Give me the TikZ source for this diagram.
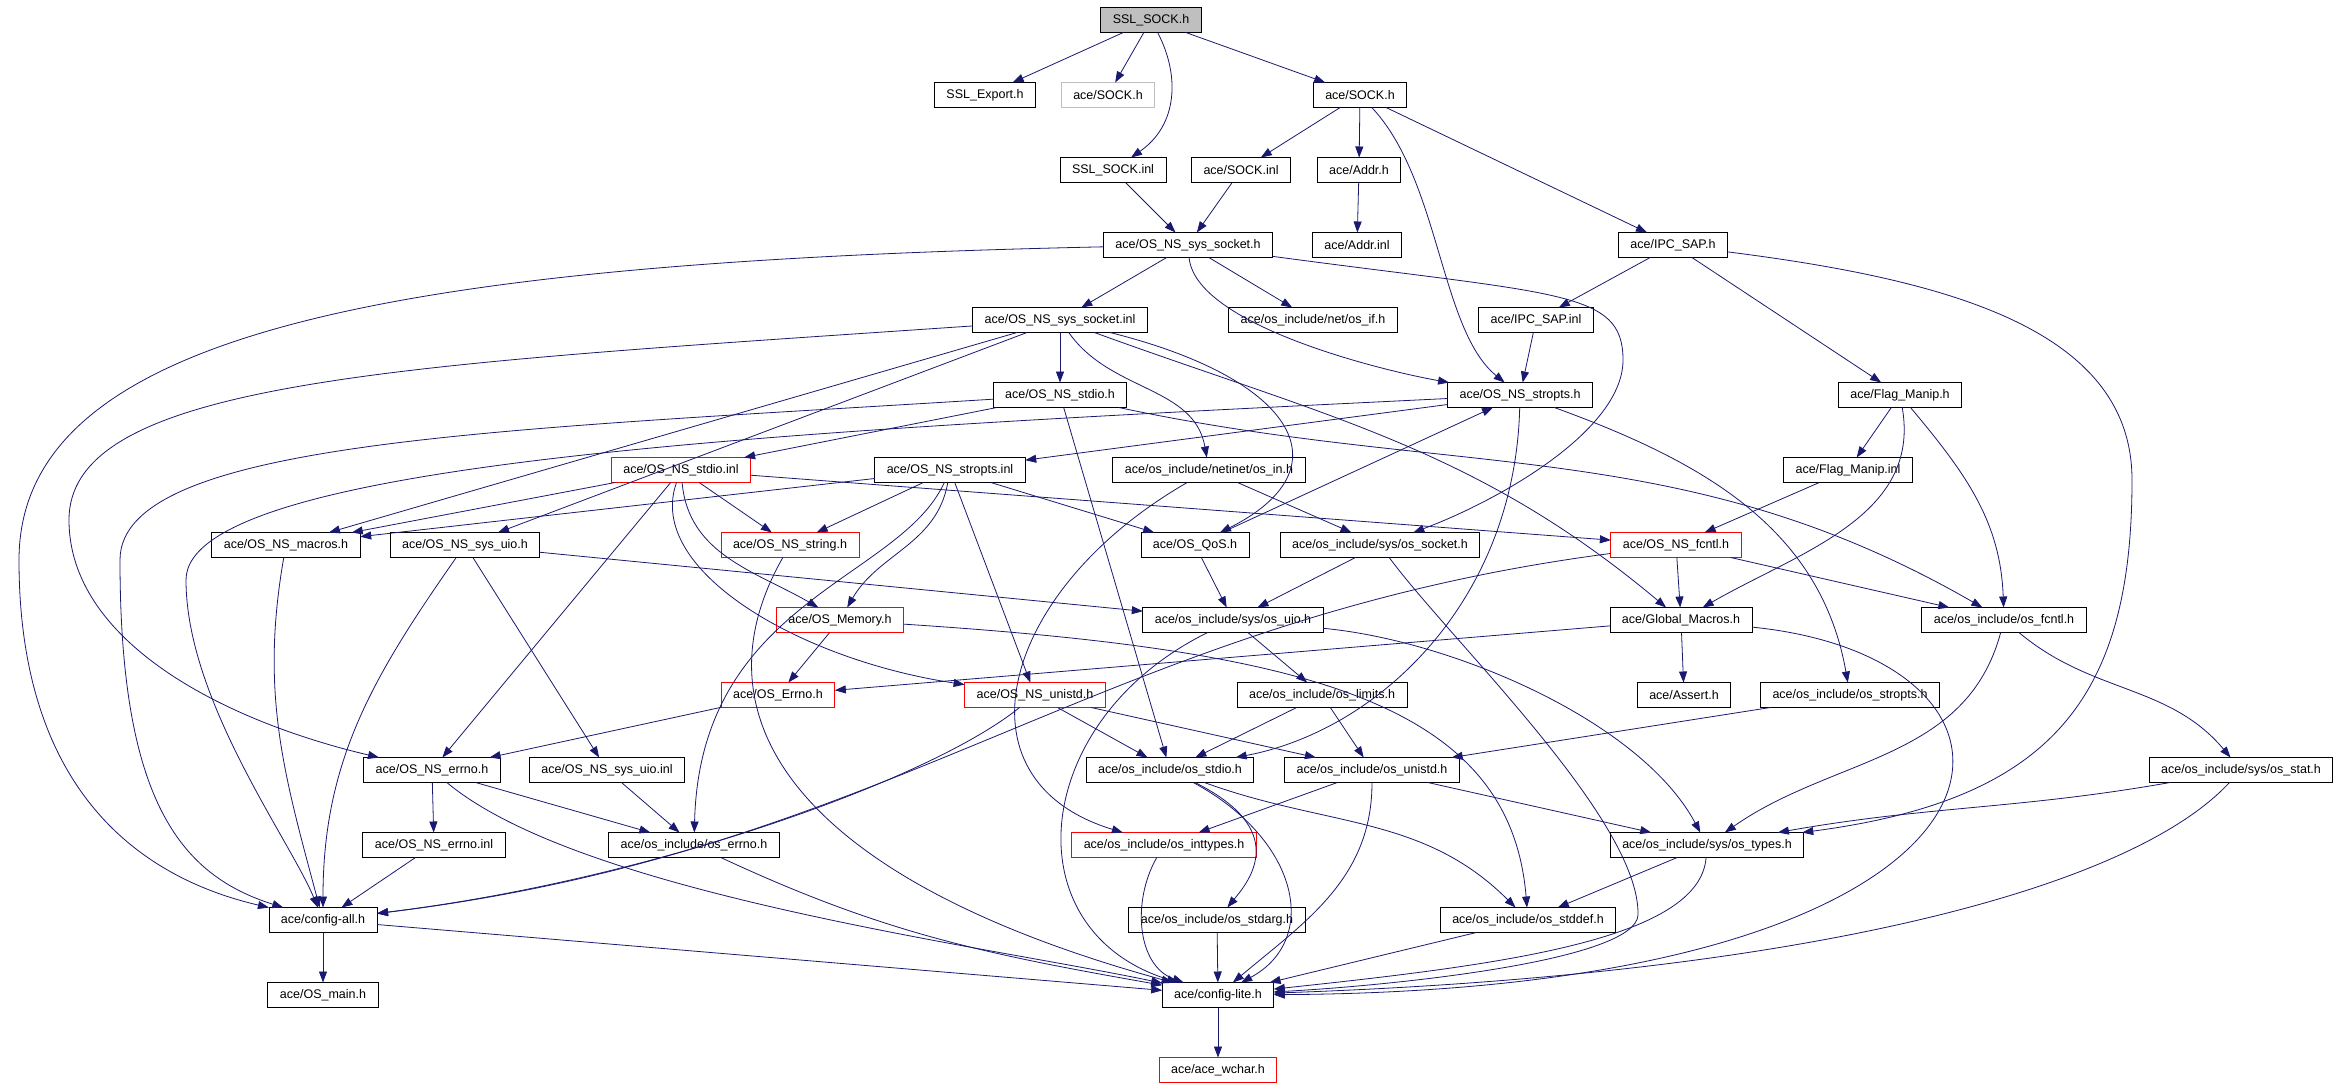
\documentclass[tikz,border=0pt]{standalone}
\usepackage{fontspec}
\setmainfont[Ligatures=NoCommon]{Liberation Sans}
\usepackage{tkz-graph}
\usetikzlibrary{arrows.meta}
\definecolor{edgeblue}{HTML}{191970}
\definecolor{nodegray}{HTML}{BFBFBF}
\begin{document}
\begin{tikzpicture}[x=1pt,y=1pt,
    VertexStyle/.style={rectangle,draw,line width=0.9pt,
      minimum height=25pt,inner xsep=12pt,inner ysep=0pt,font=\fontsize{12.5}{14}\selectfont},
    EdgeStyle/.style={draw=edgeblue,line width=0.8pt,-{Triangle[length=11pt,width=8pt]}},
    LabelStyle/.style={}]
\SetVertexNoMath
\useasboundingbox[fill=white] (0,0) rectangle (2341,-1083);
        \Vertex[x=1151,y=-20,L={SSL\_SOCK.h},style={fill=nodegray}]{sslsock}
        \Vertex[x=985,y=-95,L={SSL\_Export.h}]{sslexport}
        \Vertex[x=1108,y=-95,L={ace/SOCK.h},style={draw=nodegray}]{sockgray}
        \Vertex[x=1360,y=-95,L={ace/SOCK.h}]{sockh}
        \Vertex[x=1113,y=-170,L={SSL\_SOCK.inl}]{sslsockinl}
        \Vertex[x=1241,y=-170,L={ace/SOCK.inl}]{sockinl}
        \Vertex[x=1359,y=-170,L={ace/Addr.h}]{addrh}
        \Vertex[x=1188,y=-245,L={ace/OS\_NS\_sys\_socket.h}]{nssyssocket}
        \Vertex[x=1357,y=-245,L={ace/Addr.inl}]{addrinl}
        \Vertex[x=1673,y=-245,L={ace/IPC\_SAP.h}]{ipcsap}
        \Vertex[x=1060,y=-320,L={ace/OS\_NS\_sys\_socket.inl}]{nssyssocketinl}
        \Vertex[x=1313,y=-320,L={ace/os\_include/net/os\_if.h}]{osif}
        \Vertex[x=1536,y=-320,L={ace/IPC\_SAP.inl}]{ipcsapinl}
        \Vertex[x=1060,y=-395,L={ace/OS\_NS\_stdio.h}]{nsstdio}
        \Vertex[x=1520,y=-395,L={ace/OS\_NS\_stropts.h}]{nsstropts}
        \Vertex[x=1900,y=-395,L={ace/Flag\_Manip.h}]{flagmanip}
        \Vertex[x=681,y=-470,L={ace/OS\_NS\_stdio.inl},style={draw=red}]{nsstdioinl}
        \Vertex[x=950,y=-470,L={ace/OS\_NS\_stropts.inl}]{nsstroptsinl}
        \Vertex[x=1209,y=-470,L={ace/os\_include/netinet/os\_in.h}]{osin}
        \Vertex[x=1848,y=-470,L={ace/Flag\_Manip.inl}]{flagmanipinl}
        \Vertex[x=286,y=-545,L={ace/OS\_NS\_macros.h}]{nsmacros}
        \Vertex[x=465,y=-545,L={ace/OS\_NS\_sys\_uio.h}]{nssysuio}
        \Vertex[x=790,y=-545,L={ace/OS\_NS\_string.h},style={draw=red}]{nsstring}
        \Vertex[x=1195,y=-545,L={ace/OS\_QoS.h}]{osqos}
        \Vertex[x=1380,y=-545,L={ace/os\_include/sys/os\_socket.h}]{ossocket}
        \Vertex[x=1676,y=-545,L={ace/OS\_NS\_fcntl.h},style={draw=red}]{nsfcntl}
        \Vertex[x=840,y=-620,L={ace/OS\_Memory.h},style={draw=red}]{osmemory}
        \Vertex[x=1233,y=-620,L={ace/os\_include/sys/os\_uio.h}]{osuio}
        \Vertex[x=1681,y=-620,L={ace/Global\_Macros.h}]{globalmacros}
        \Vertex[x=2004,y=-620,L={ace/os\_include/os\_fcntl.h}]{osfcntl}
        \Vertex[x=778,y=-695,L={ace/OS\_Errno.h},style={draw=red}]{oserrnoh}
        \Vertex[x=1035,y=-695,L={ace/OS\_NS\_unistd.h},style={draw=red}]{nsunistd}
        \Vertex[x=1322,y=-695,L={ace/os\_include/os\_limits.h}]{oslimits}
        \Vertex[x=1684,y=-695,L={ace/Assert.h}]{assert}
        \Vertex[x=1850,y=-695,L={ace/os\_include/os\_stropts.h}]{osstropts}
        \Vertex[x=432,y=-770,L={ace/OS\_NS\_errno.h}]{nserrno}
        \Vertex[x=607,y=-770,L={ace/OS\_NS\_sys\_uio.inl}]{nssysuioinl}
        \Vertex[x=1170,y=-770,L={ace/os\_include/os\_stdio.h}]{osstdio}
        \Vertex[x=1372,y=-770,L={ace/os\_include/os\_unistd.h}]{osunistd}
        \Vertex[x=2241,y=-770,L={ace/os\_include/sys/os\_stat.h}]{osstat}
        \Vertex[x=434,y=-845,L={ace/OS\_NS\_errno.inl}]{nserrnoinl}
        \Vertex[x=694,y=-845,L={ace/os\_include/os\_errno.h}]{oserrno}
        \Vertex[x=1164,y=-845,L={ace/os\_include/os\_inttypes.h},style={draw=red}]{osinttypes}
        \Vertex[x=1707,y=-845,L={ace/os\_include/sys/os\_types.h}]{ostypes}
        \Vertex[x=323,y=-920,L={ace/config-all.h}]{configall}
        \Vertex[x=1217,y=-920,L={ace/os\_include/os\_stdarg.h}]{osstdarg}
        \Vertex[x=1528,y=-920,L={ace/os\_include/os\_stddef.h}]{osstddef}
        \Vertex[x=323,y=-995,L={ace/OS\_main.h}]{osmain}
        \Vertex[x=1218,y=-995,L={ace/config-lite.h}]{configlite}
        \Vertex[x=1218,y=-1070,L={ace/ace\_wchar.h},style={draw=red}]{acewchar}
        \coordinate (wA) at (19,-560);
        \coordinate (wB) at (1623,-360);
        \coordinate (wC) at (2132,-480);
        \coordinate (wD) at (69,-520);
        \coordinate (wE) at (120,-560);
        \coordinate (wF) at (186,-580);
        \coordinate (wG) at (1638,-915);
        \Edge(sslsock)(sslexport)
        \Edge(sslsock)(sockgray)
        \Edge(sslsock)(sockh)
        \draw[EdgeStyle] (sslsock) .. controls (1180,-75) and (1178,-125) .. (sslsockinl);
        \Edge(sockh)(sockinl)
        \Edge(sockh)(addrh)
        \Edge(sockh)(ipcsap)
        \draw[EdgeStyle] (sockh) .. controls (1440,-180) and (1440,-330) .. (nsstropts);
        \Edge(sslsockinl)(nssyssocket)
        \Edge(sockinl)(nssyssocket)
        \Edge(addrh)(addrinl)
        \Edge(nssyssocket)(nssyssocketinl)
        \Edge(nssyssocket)(osif)
        \Edge[style={out=-85,in=170,looseness=0.6}](nssyssocket)(nsstropts)
        \draw[EdgeStyle] (nssyssocket) .. controls (400,-262) and (19,-330) .. (wA)
            .. controls (19,-800) and (150,-880) .. (configall);
        \draw[EdgeStyle] (nssyssocket) .. controls (1560,-295) and (1623,-290) .. (wB)
            .. controls (1623,-430) and (1500,-500) .. (ossocket);
        \Edge(ipcsap)(ipcsapinl)
        \Edge(ipcsap)(flagmanip)
        \draw[EdgeStyle] (ipcsap) .. controls (1950,-280) and (2132,-330) .. (wC)
            .. controls (2132,-700) and (2050,-800) .. (ostypes);
        \Edge(ipcsapinl)(nsstropts)
        \draw[EdgeStyle] (nssyssocketinl) .. controls (400,-365) and (69,-380) .. (wD)
            .. controls (69,-640) and (220,-720) .. (nserrno);
        \Edge(nssyssocketinl)(nsmacros)
        \Edge(nssyssocketinl)(nssysuio)
        \Edge(nssyssocketinl)(nsstdio)
        \Edge[style={out=-55,in=100}](nssyssocketinl)(osin)
        \draw[EdgeStyle] (nssyssocketinl) .. controls (1300,-380) and (1345,-470) .. (osqos);
        \Edge[style={out=-20,in=140}](nssyssocketinl)(globalmacros)
        \Edge(nsstdio)(nsstdioinl)
        \Edge(nsstdio)(osstdio)
        \Edge[style={out=-12,in=150}](nsstdio)(osfcntl)
        \draw[EdgeStyle] (nsstdio) .. controls (500,-430) and (120,-440) .. (wE)
            .. controls (120,-800) and (180,-875) .. (configall);
        \Edge(nsstropts)(nsstroptsinl)
        \draw[EdgeStyle] (nsstropts) .. controls (1515,-600) and (1380,-730) .. (osstdio);
        \Edge[style={out=-20,in=100}](nsstropts)(osstropts)
        \draw[EdgeStyle] (nsstropts) .. controls (800,-430) and (186,-460) .. (wF)
            .. controls (186,-700) and (290,-840) .. (configall);
        \Edge(flagmanip)(flagmanipinl)
        \Edge[style={out=-80,in=30}](flagmanip)(globalmacros)
        \Edge[style={out=-50,in=92}](flagmanip)(osfcntl)
        \Edge(flagmanipinl)(nsfcntl)
        \Edge(nsstdioinl)(nsmacros)
        \Edge(nsstdioinl)(nsstring)
        \Edge[style={out=-85,in=150}](nsstdioinl)(osmemory)
        \draw[EdgeStyle] (nsstdioinl) .. controls (645,-570) and (800,-660) .. (nsunistd);
        \Edge(nsstdioinl)(nserrno)
        \Edge(nsstdioinl)(nsfcntl)
        \Edge(nsstroptsinl)(nsmacros)
        \Edge(nsstroptsinl)(nsstring)
        \Edge[style={out=-100,in=60}](nsstroptsinl)(osmemory)
        \Edge(nsstroptsinl)(nsunistd)
        \Edge(nsstroptsinl)(osqos)
        \draw[EdgeStyle] (nsstroptsinl) .. controls (900,-580) and (700,-600) .. (oserrno);
        \draw[EdgeStyle] (osin) .. controls (1000,-590) and (950,-780) .. (osinttypes);
        \Edge(osin)(ossocket)
        \Edge[style={out=-100,in=105}](nsmacros)(configall)
        \Edge(nssysuio)(nssysuioinl)
        \Edge[style={out=-125,in=90}](nssysuio)(configall)
        \Edge(nssysuio)(osuio)
        \draw[EdgeStyle] (nsstring) .. controls (690,-720) and (800,-880) .. (configlite);
        \Edge(osqos)(osuio)
        \Edge(osqos)(nsstropts)
        \Edge(ossocket)(osuio)
        \draw[EdgeStyle] (ossocket) .. controls (1450,-640) and (1640,-820) .. (wG)
            .. controls (1636,-960) and (1400,-985) .. (configlite);
        \Edge(nsfcntl)(globalmacros)
        \Edge(nsfcntl)(osfcntl)
        \draw[EdgeStyle] (nsfcntl) .. controls (1100,-620) and (900,-850) .. (configall);
        \Edge(osmemory)(oserrnoh)
        \draw[EdgeStyle] (osmemory) .. controls (1300,-650) and (1510,-700) .. (osstddef);
        \Edge(osuio)(oslimits)
        \draw[EdgeStyle] (osuio) .. controls (1450,-640) and (1640,-720) .. (ostypes);
        \draw[EdgeStyle] (osuio) .. controls (1030,-720) and (1010,-930) .. (configlite);
        \Edge(globalmacros)(oserrnoh)
        \Edge(globalmacros)(assert)
        \draw[EdgeStyle] (globalmacros) .. controls (2080,-660) and (2060,-990) .. (configlite);
        \Edge[style={out=-105,in=35}](osfcntl)(ostypes)
        \Edge[style={out=-40,in=130}](osfcntl)(osstat)
        \Edge(oserrnoh)(nserrno)
        \draw[EdgeStyle] (nsunistd) .. controls (930,-780) and (650,-880) .. (configall);
        \Edge(nsunistd)(osstdio)
        \Edge(nsunistd)(osunistd)
        \Edge(oslimits)(osstdio)
        \Edge(oslimits)(osunistd)
        \Edge(osstropts)(osunistd)
        \Edge(nserrno)(nserrnoinl)
        \Edge(nserrno)(oserrno)
        \Edge[style={out=-40,in=168,looseness=0.6}](nserrno)(configlite)
        \Edge(nssysuioinl)(oserrno)
        \draw[EdgeStyle] (osstdio) .. controls (1290,-830) and (1250,-880) .. (osstdarg);
        \draw[EdgeStyle] (osstdio) .. controls (1300,-840) and (1320,-940) .. (configlite);
        \Edge[style={out=-20,in=135}](osstdio)(osstddef)
        \Edge(osunistd)(osinttypes)
        \Edge[style={out=-90,in=40}](osunistd)(configlite)
        \Edge(osunistd)(ostypes)
        \Edge[style={out=-170,in=10}](osstat)(ostypes)
        \draw[EdgeStyle] (osstat) .. controls (2130,-890) and (1800,-975) .. (configlite);
        \Edge(nserrnoinl)(configall)
        \Edge[style={out=-25,in=170}](oserrno)(configlite)
        \Edge[style={out=-120,in=160}](osinttypes)(configlite)
        \Edge(ostypes)(osstddef)
        \draw[EdgeStyle] (ostypes) .. controls (1700,-940) and (1500,-965) .. (configlite);
        \Edge(configall)(osmain)
        \Edge(configall)(configlite)
        \Edge(osstdarg)(configlite)
        \Edge(osstddef)(configlite)
        \Edge(configlite)(acewchar)
\end{tikzpicture}
\end{document}
